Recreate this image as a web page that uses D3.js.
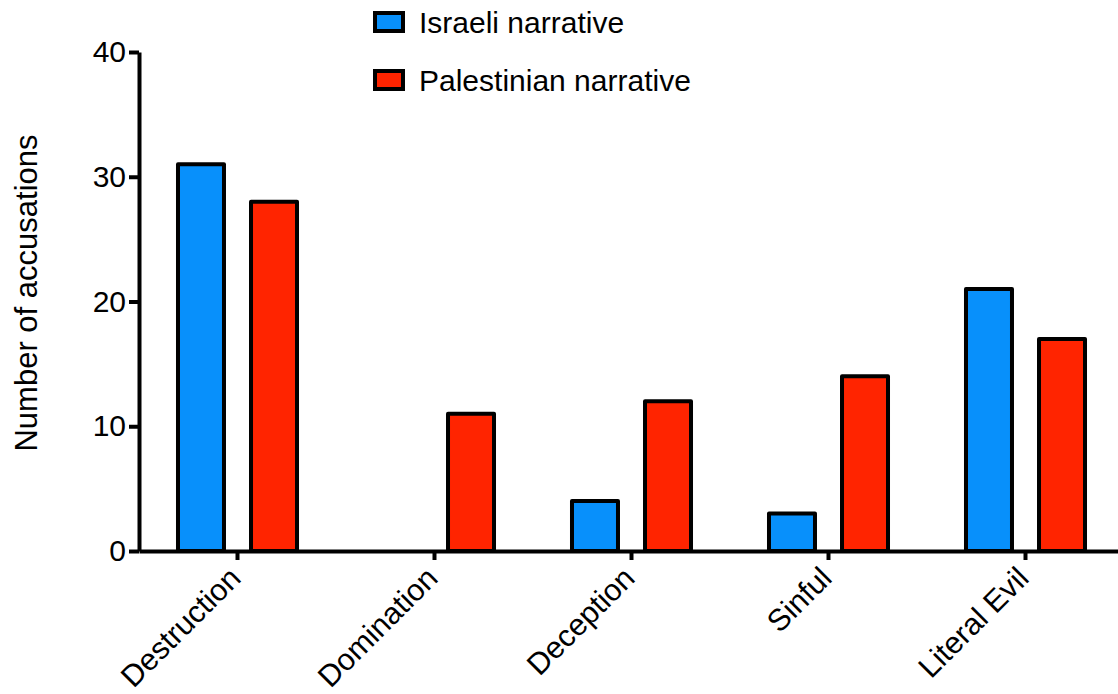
<!DOCTYPE html>
<html>
<head>
<meta charset="utf-8">
<script src="https://cdn.jsdelivr.net/npm/d3@7/dist/d3.min.js"></script>
<style>
  html, body { margin: 0; padding: 0; background: #fff; }
  svg { display: block; font-family: "Liberation Sans", Arial, Helvetica, sans-serif; }
</style>
</head>
<body>
<svg id="chart" width="1118" height="694"></svg>
<script>
// Accusation categories and counts per narrative
const categories = ["Destruction", "Domination", "Deception", "Sinful", "Literal Evil"];
const seriesNames = ["Israeli narrative", "Palestinian narrative"];
const israeliValues = [31, 0, 4, 3, 21];
const palestinianValues = [28, 11, 12, 14, 17];
const yTicks = [0, 10, 20, 30, 40];
const yLabel = "Number of accusations";

const colors = { "Israeli narrative": "#0890FB", "Palestinian narrative": "#FF2400" };

const rows = categories.map((c, i) => ({
  category: c,
  values: [
    { series: seriesNames[0], value: israeliValues[i] },
    { series: seriesNames[1], value: palestinianValues[i] }
  ]
}));

const svg = d3.select("#chart");
const x0 = d3.scaleBand().domain(categories).range([139, 1124]).paddingInner(0).paddingOuter(0);
const x1 = d3.scaleBand().domain(seriesNames).range([0, x0.bandwidth()]).paddingInner(0.37).paddingOuter(0.534);
const y = d3.scaleLinear().domain([0, 40]).range([551, 52]);

// Bars
const groups = svg.append("g").selectAll("g").data(rows).join("g")
  .attr("transform", d => `translate(${x0(d.category)},0)`);
groups.selectAll("rect").data(d => d.values).join("rect")
  .attr("x", d => x1(d.series))
  .attr("y", d => y(d.value))
  .attr("width", x1.bandwidth())
  .attr("height", d => y(0) - y(d.value))
  .attr("fill", d => colors[d.series])
  .attr("stroke", "#000")
  .attr("stroke-width", 4)
  .attr("stroke-linejoin", "round");

// Y axis
const yAxis = svg.append("g").attr("transform", "translate(139,0)")
  .call(d3.axisLeft(y).tickValues(yTicks).tickFormat(d3.format("d")).tickSize(10).tickSizeOuter(0).tickPadding(3));
yAxis.select(".domain").attr("stroke", "#000").attr("stroke-width", 4);
yAxis.selectAll(".tick line").attr("stroke", "#000").attr("stroke-width", 4);
yAxis.selectAll(".tick text").attr("font-size", 30).attr("fill", "#000")
  .attr("font-family", "'Liberation Sans', Arial, sans-serif");

// X axis
const xAxis = svg.append("g").attr("transform", `translate(0,${y(0)})`)
  .call(d3.axisBottom(x0).tickSize(9).tickSizeOuter(0).tickFormat(""));
xAxis.select(".domain").attr("stroke", "#000").attr("stroke-width", 4);
xAxis.selectAll(".tick line").attr("stroke", "#000").attr("stroke-width", 4);

// Rotated category labels
svg.append("g").selectAll("text").data(categories).join("text")
  .attr("transform", d => `translate(${x0(d) + x0.bandwidth() / 2 + 5},${y(0) + 29}) rotate(-45)`)
  .attr("text-anchor", "end")
  .attr("font-size", 30.5)
  .attr("fill", "#000")
  .text(d => d);

// Y axis title
svg.append("text")
  .attr("transform", `translate(37,293) rotate(-90)`)
  .attr("text-anchor", "middle")
  .attr("font-size", 31)
  .attr("fill", "#000")
  .text(yLabel);

// Legend
const legend = svg.append("g").selectAll("g").data(seriesNames).join("g")
  .attr("transform", (d, i) => `translate(375,${13 + i * 58})`);
legend.append("rect")
  .attr("width", 28).attr("height", 18)
  .attr("fill", d => colors[d])
  .attr("stroke", "#000").attr("stroke-width", 4);
legend.append("text")
  .attr("x", 44).attr("y", 20)
  .attr("font-size", 30)
  .attr("fill", "#000")
  .text(d => d);
</script>
</body>
</html>
